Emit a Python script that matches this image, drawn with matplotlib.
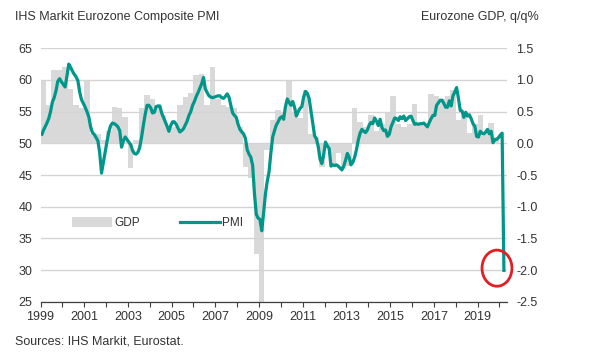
import numpy as np
import matplotlib
matplotlib.use('Agg')
import matplotlib.pyplot as plt
from matplotlib.patches import Patch, Ellipse
from matplotlib.lines import Line2D

plt.rcParams['font.family'] = ['Liberation Sans', 'DejaVu Sans']
plt.rcParams['axes.unicode_minus'] = False

# Композитный PMI еврозоны, по месяцам с января 1999 по март 2020
pmi = [
    51.2, 52.0, 52.6, 53.2, 53.9, 55.0, 56.5, 57.2, 58.3, 59.8, 60.2, 59.7,  # 1999
    59.3, 58.9, 60.6, 62.5, 62.0, 61.4, 60.9, 60.5, 59.9, 58.1, 56.9, 56.3,  # 2000
    55.7, 55.0, 54.2, 52.6, 51.7, 51.4, 50.9, 50.4, 48.5, 45.3, 47.0, 48.8,  # 2001
    50.3, 51.8, 52.8, 53.2, 53.1, 52.9, 52.6, 52.0, 49.4, 50.4, 51.0, 50.6,  # 2002
    50.2, 49.8, 48.9, 48.4, 48.3, 48.6, 49.4, 51.0, 52.9, 54.6, 56.0, 56.0,  # 2003
    55.6, 54.8, 54.9, 55.8, 55.9, 55.9, 54.8, 54.1, 53.4, 52.7, 51.9, 52.8,  # 2004
    53.4, 53.4, 53.0, 52.4, 51.8, 52.0, 52.3, 52.9, 53.5, 54.4, 55.0, 56.0,  # 2005
    56.6, 57.4, 58.0, 58.7, 59.4, 60.4, 58.6, 58.0, 57.5, 57.3, 57.2, 57.3,  # 2006
    57.4, 57.5, 57.5, 57.2, 57.1, 57.4, 57.8, 57.3, 56.0, 54.8, 54.4, 54.1,  # 2007
    53.0, 52.2, 51.8, 51.5, 50.8, 49.0, 48.3, 47.8, 46.5, 42.0, 38.8, 38.2,  # 2008
    38.0, 36.2, 39.0, 42.0, 44.0, 45.5, 48.5, 51.0, 52.0, 52.9, 53.4, 54.0,  # 2009
    54.2, 53.8, 55.8, 57.0, 56.5, 56.0, 56.6, 55.7, 54.3, 55.0, 55.5, 55.8,  # 2010
    57.3, 58.2, 57.9, 57.1, 55.2, 53.2, 51.2, 50.7, 49.5, 47.5, 46.8, 48.2,  # 2011
    50.2, 49.6, 49.2, 46.4, 46.6, 46.5, 46.6, 46.4, 46.1, 45.8, 46.4, 47.3,  # 2012
    48.4, 47.8, 46.6, 47.0, 47.8, 49.0, 50.5, 51.6, 52.2, 51.9, 51.7, 52.1,  # 2013
    52.9, 53.3, 53.1, 54.0, 53.5, 52.8, 53.8, 52.5, 52.0, 52.1, 51.1, 51.4,  # 2014
    52.6, 53.3, 54.0, 53.9, 53.6, 54.2, 53.9, 54.3, 53.6, 53.9, 54.2, 54.3,  # 2015
    53.6, 53.0, 53.1, 53.0, 53.1, 53.1, 53.2, 52.9, 52.6, 53.3, 53.9, 54.4,  # 2016
    54.4, 56.0, 56.4, 56.8, 56.8, 56.3, 55.7, 55.7, 56.7, 55.9, 57.5, 58.1,  # 2017
    58.8, 57.1, 55.2, 55.1, 54.1, 54.9, 54.3, 54.5, 53.9, 53.1, 52.7, 51.1,  # 2018
    51.0, 51.9, 51.6, 51.5, 51.8, 52.2, 51.5, 51.9, 50.1, 50.6, 50.6, 50.9,  # 2019
    51.3, 51.6, 29.7,                                                        # 2020
]

# ВВП еврозоны, % кв/кв, с 1 кв. 1999 по 4 кв. 2019
gdp = [
    1.0, 0.6, 1.15, 1.15,     # 1999
    1.2, 0.85, 0.6, 0.55,     # 2000
    1.0, 0.15, 0.15, 0.05,    # 2001
    0.2, 0.58, 0.56, 0.42,    # 2002
    -0.39, 0.05, 0.56, 0.76,  # 2003
    0.7, 0.6, 0.45, 0.25,     # 2004
    0.25, 0.6, 0.73, 0.8,     # 2005
    1.08, 1.1, 0.6, 1.2,      # 2006
    0.7, 0.6, 0.58, 0.55,     # 2007
    0.25, -0.37, -0.55, -1.74,  # 2008
    -3.1, -0.1, 0.37, 0.53,   # 2009
    0.5, 1.0, 0.5, 0.4,       # 2010
    0.84, 0.15, 0.1, -0.37,   # 2011
    -0.05, -0.37, -0.15, -0.4,  # 2012
    -0.35, 0.55, 0.34, 0.25,  # 2013
    0.45, 0.2, 0.3, 0.5,      # 2014
    0.74, 0.3, 0.25, 0.3,     # 2015
    0.62, 0.3, 0.3, 0.78,     # 2016
    0.75, 0.7, 0.74, 0.84,    # 2017
    0.37, 0.45, 0.16, 0.3,    # 2018
    0.45, 0.16, 0.32, 0.1,    # 2019
]

years_major = list(range(1999, 2021, 2))
years_minor = list(range(1999, 2021))

teal = '#00968a'
grey_bar = '#d9d9d9'
txt = '#333333'

pmi_x = 1999 + (np.arange(len(pmi)) + 0.5) / 12
gdp_x = 1999 + np.arange(len(gdp)) * 0.25

fig = plt.figure(figsize=(5.96, 3.55), dpi=100)
ax = fig.add_axes([0.068, 0.150, 0.782, 0.714])
ax2 = ax.twinx()

# Столбцы ВВП на правой оси
ax2.bar(gdp_x, gdp, width=0.25, align='edge', color=grey_bar, linewidth=0)
ax2.set_ylim(-2.5, 1.5)
ax2.set_yticks(np.arange(-2.5, 1.51, 0.5))
ax2.set_yticklabels(['%.1f' % v for v in np.arange(-2.5, 1.51, 0.5)])

# PMI поверх
ax.set_zorder(ax2.get_zorder() + 1)
ax.patch.set_visible(False)
ax.plot(pmi_x, pmi, color=teal, linewidth=2.3, zorder=3, solid_capstyle='butt')
ax.set_ylim(25, 65)
ax.set_yticks(range(25, 66, 5))
ax.set_xlim(1999, 2020.33)
ax.set_xticks(years_minor, minor=True)
ax.set_xticks(years_major)
ax.set_xticklabels([str(y) for y in years_major])
ax.yaxis.grid(True, color='#d4d4d4', linewidth=1.0, zorder=1)

for a in (ax, ax2):
    for s in ('top', 'left', 'right'):
        a.spines[s].set_visible(False)
ax2.spines['bottom'].set_visible(False)
ax.spines['bottom'].set_color('#404040')
ax.spines['bottom'].set_linewidth(0.9)

ax.tick_params(axis='y', length=0, pad=6, labelsize=9, labelcolor=txt)
ax2.tick_params(axis='y', length=0, pad=7, labelsize=9, labelcolor=txt)
ax.tick_params(axis='x', which='both', direction='out', length=3.5, width=0.8,
               color='#404040', labelsize=9, labelcolor=txt, pad=3)

# Легенда
handles = [Patch(facecolor=grey_bar, edgecolor='none', label='GDP'),
           Line2D([0], [0], color=teal, linewidth=2.3, label='PMI')]
ax.legend(handles=handles, ncol=2, frameon=False, loc='center left',
          bbox_to_anchor=(0.045, 0.31), handlelength=3.4, handleheight=0.9,
          handletextpad=0.15, columnspacing=3.4, fontsize=8.5,
          labelcolor=txt)

# Красный круг вокруг последнего значения
circ = Ellipse((2019.89, 30.3), width=1.37, height=5.7, fill=False,
               edgecolor='#e31e24', linewidth=2.0, clip_on=False, zorder=5)
ax.add_patch(circ)

fig.text(15 / 596, 1 - 17 / 355, 'IHS Markit Eurozone Composite PMI',
         fontsize=9, color=txt, va='center', ha='left')
fig.text(539 / 596, 1 - 17 / 355, 'Eurozone GDP, q/q%',
         fontsize=9, color=txt, va='center', ha='right')
fig.text(15 / 596, 1 - 342 / 355, 'Sources: IHS Markit, Eurostat.',
         fontsize=9, color=txt, va='center', ha='left')

fig.savefig('out.png', dpi=100)
